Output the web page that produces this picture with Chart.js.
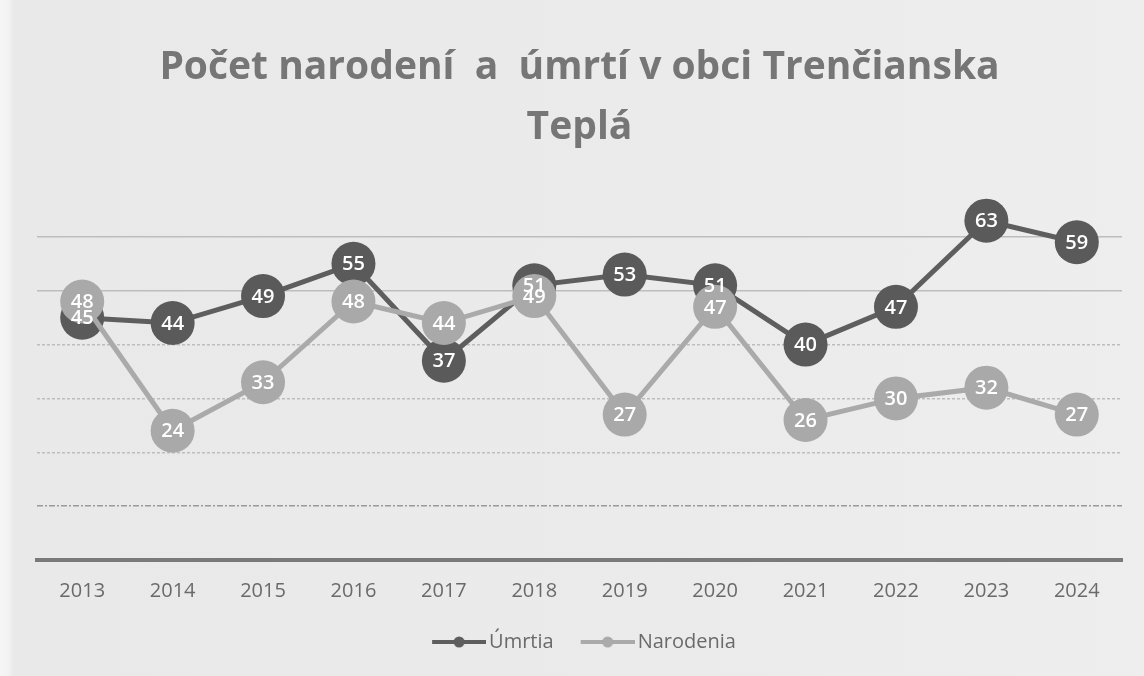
<!DOCTYPE html>
<html lang="sk">
<head>
    <meta charset="UTF-8">
    <title>Počet narodení a úmrtí</title>
    <style>
        html, body {
            margin: 0;
            padding: 0;
        }
        body {
            width: 1144px;
            height: 676px;
            overflow: hidden;
            background: linear-gradient(90deg, #f6f6f6 0px, #f3f3f3 8px, #e9e9e9 14px, #ebebeb 60%, #eeeeee 100%);
        }
        .chart-box {
            position: relative;
            width: 1144px;
            height: 676px;
        }
    </style>
    <script src="https://cdn.jsdelivr.net/npm/chart.js"></script>
</head>
<body>
    <div class="chart-box">
        <canvas id="births-deaths-chart"></canvas>
    </div>
    <script>
        // data
        const years = ['2013', '2014', '2015', '2016', '2017', '2018', '2019', '2020', '2021', '2022', '2023', '2024'];
        const umrtia = [45, 44, 49, 55, 37, 51, 53, 51, 40, 47, 63, 59];
        const narodenia = [48, 24, 33, 48, 44, 49, 27, 47, 26, 30, 32, 27];
        const titleLines = ['Počet narodení  a  úmrtí v obci Trenčianska', 'Teplá'];

        const darkColor = '#5a5a5a';
        const lightColor = '#a9a9a9';
        const lineColors = ['#5e5e5e', '#aaaaaa'];

        // small line + dot picture for the legend
        // (transparent room on the left so the symbol sits close to its text)
        function legendSymbol(color) {
            const c = document.createElement('canvas');
            c.width = 70;
            c.height = 12;
            const g = c.getContext('2d');
            g.strokeStyle = color;
            g.lineWidth = 4;
            g.beginPath();
            g.moveTo(16, 6);
            g.lineTo(70, 6);
            g.stroke();
            g.fillStyle = color;
            g.beginPath();
            g.arc(43, 6, 5.5, 0, Math.PI * 2);
            g.fill();
            return c;
        }

        // white numbers inside the markers, on top of everything
        const pointLabels = {
            id: 'pointLabels',
            afterDatasetsDraw(chart) {
                const ctx = chart.ctx;
                ctx.save();
                ctx.fillStyle = '#ffffff';
                ctx.font = '600 20px "Open Sans"';
                ctx.textAlign = 'center';
                ctx.textBaseline = 'middle';
                chart.data.datasets.forEach((ds, i) => {
                    chart.getDatasetMeta(i).data.forEach((pt, j) => {
                        ctx.fillText(ds.data[j], pt.x, pt.y + 1);
                    });
                });
                ctx.restore();
            }
        };

        new Chart(document.getElementById('births-deaths-chart'), {
            type: 'line',
            data: {
                labels: years,
                datasets: [{
                    label: 'Úmrtia',
                    data: umrtia,
                    borderColor: lineColors[0],
                    backgroundColor: darkColor,
                    pointBackgroundColor: darkColor,
                    pointBorderColor: darkColor,
                    borderWidth: 5,
                    pointRadius: 22,
                    pointHoverRadius: 22,
                    pointBorderWidth: 0,
                    order: 2,
                    clip: false
                }, {
                    label: 'Narodenia',
                    data: narodenia,
                    borderColor: lineColors[1],
                    backgroundColor: lightColor,
                    pointBackgroundColor: lightColor,
                    pointBorderColor: lightColor,
                    borderWidth: 5,
                    pointRadius: 22,
                    pointHoverRadius: 22,
                    pointBorderWidth: 0,
                    order: 1,
                    clip: false
                }]
            },
            options: {
                responsive: true,
                maintainAspectRatio: false,
                animation: false,
                layout: {
                    padding: { left: 37, right: 22, top: 0, bottom: 14 }
                },
                scales: {
                    x: {
                        offset: true,
                        grid: { display: false },
                        border: { display: true, color: '#7a7a7a', width: 4 },
                        ticks: {
                            color: '#6a6a6a',
                            padding: 11,
                            font: { family: '"Open Sans"', size: 20 }
                        }
                    },
                    y: {
                        min: 0,
                        max: 70,
                        ticks: { display: false, stepSize: 10 },
                        grid: {
                            drawTicks: false,
                            lineWidth: 1.5,
                            color: (c) => {
                                const v = c.tick ? c.tick.value : -1;
                                if (v === 70 || v === 0) return 'rgba(0,0,0,0)';
                                if (v === 10) return '#9a9a9a';
                                return '#bdbdbd';
                            }
                        },
                        border: {
                            display: false,
                            dash: (c) => {
                                const v = c.tick ? c.tick.value : -1;
                                if (v >= 50) return [];
                                if (v === 10) return [6, 2, 2, 2];
                                return [3, 2];
                            }
                        }
                    }
                },
                plugins: {
                    title: {
                        display: true,
                        text: titleLines,
                        color: '#767676',
                        font: { family: '"Open Sans"', size: 39, weight: 'bold', lineHeight: '60px' },
                        padding: { top: 38, bottom: 25 }
                    },
                    legend: {
                        position: 'bottom',
                        labels: {
                            usePointStyle: true,
                            pointStyleWidth: 56,
                            padding: 18,
                            color: '#6a6a6a',
                            font: { family: '"Open Sans"', size: 20 },
                            generateLabels(chart) {
                                const items = Chart.defaults.plugins.legend.labels.generateLabels(chart);
                                items.sort((a, b) => a.datasetIndex - b.datasetIndex);
                                items.forEach((it) => {
                                    it.pointStyle = legendSymbol(lineColors[it.datasetIndex]);
                                });
                                return items;
                            }
                        }
                    },
                    tooltip: { enabled: false }
                }
            },
            plugins: [pointLabels]
        });
    </script>
</body>
</html>
